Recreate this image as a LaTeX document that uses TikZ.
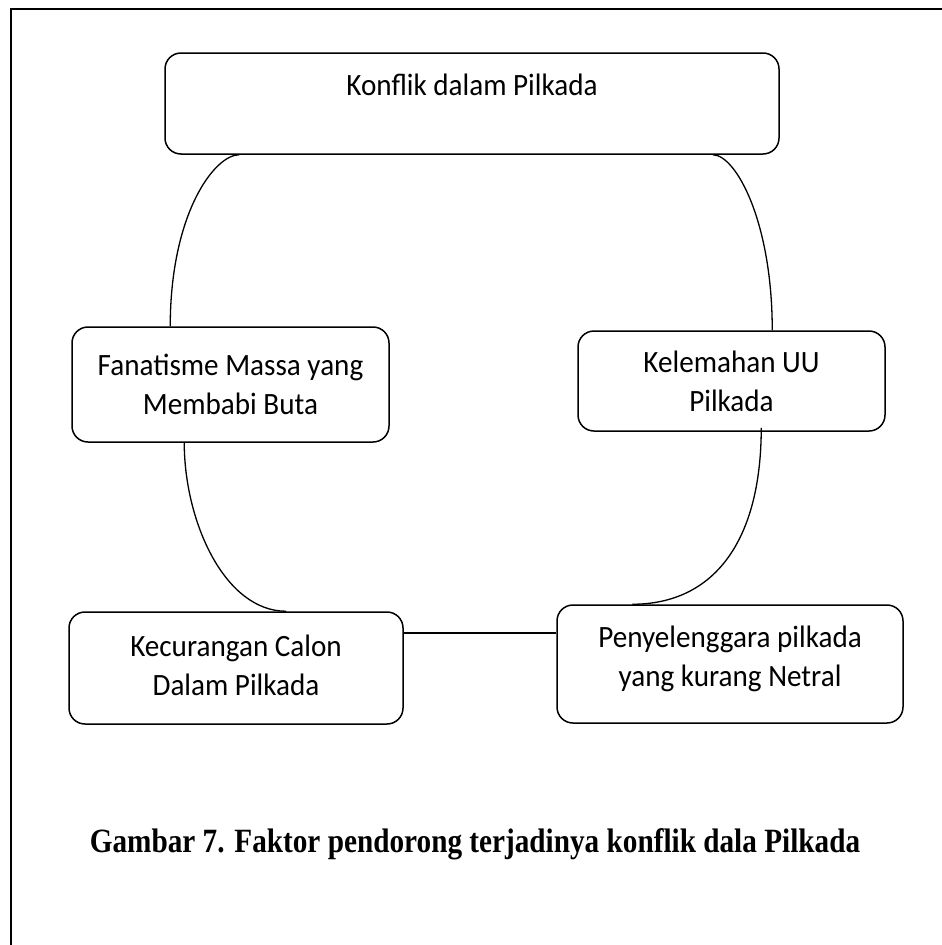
\documentclass[tikz,border=0pt]{standalone}
\usepackage{fontspec}
\newfontfamily\boxfont{Carlito}[FakeStretch=0.94]
\newfontfamily\capfont{Liberation Serif}[FakeStretch=0.86]
\begin{document}
\begin{tikzpicture}[x=1pt,y=-1pt,
  box/.style={draw, line width=1.5pt, rounded corners=16pt, inner sep=0pt, align=center,
    font=\boxfont\fontsize{31}{39}\selectfont},
  link/.style={line width=1.3pt}]
\useasboundingbox (0,0) rectangle (942,945);
\draw[line width=1.8pt] (11,945) -- (11,9) -- (942,9);
\node[box, minimum width=614pt, text height=42pt, text depth=59pt] (top) at (472,103.5) {Konflik dalam Pilkada};
\node[box, minimum width=317pt, minimum height=115pt] (fan) at (230.5,384.5) {Fanatisme Massa yang\\Membabi Buta};
\node[box, minimum width=307pt, minimum height=100pt] (kel) at (731.5,381) {Kelemahan UU\\Pilkada};
\node[box, minimum width=334pt, minimum height=112pt, text depth=6pt] (kec) at (236,668) {Kecurangan Calon\\Dalam Pilkada};
\node[box, minimum width=346pt, minimum height=118pt, text depth=15pt] (pen) at (730,664) {Penyelenggara pilkada\\yang kurang Netral};
\node[font=\capfont\bfseries\fontsize{34}{40}\selectfont, anchor=base, inner sep=0pt] (cap) at (475,852) {Gambar 7. Faktor pendorong terjadinya konflik dala Pilkada};
\draw[link] ([xshift=75pt]top.south west) .. controls +(-25,0) and +(0,-112) .. ([xshift=99pt]fan.north west);
\draw[link] ([xshift=-67pt]top.south east) .. controls +(23,0) and +(0,-109) .. ([xshift=195pt]kel.north west);
\draw[link] ([xshift=113pt]fan.south west) .. controls +(0,78) and +(-62,0) .. ([xshift=218pt]kec.north west);
\draw[link] ([xshift=184pt,yshift=4pt]kel.south west) .. controls +(0,113) and +(82,0) .. ([xshift=76pt]pen.north west);
\draw[link] ([yshift=35pt]kec.east) -- ([yshift=31pt]pen.west);
\end{tikzpicture}
\end{document}
